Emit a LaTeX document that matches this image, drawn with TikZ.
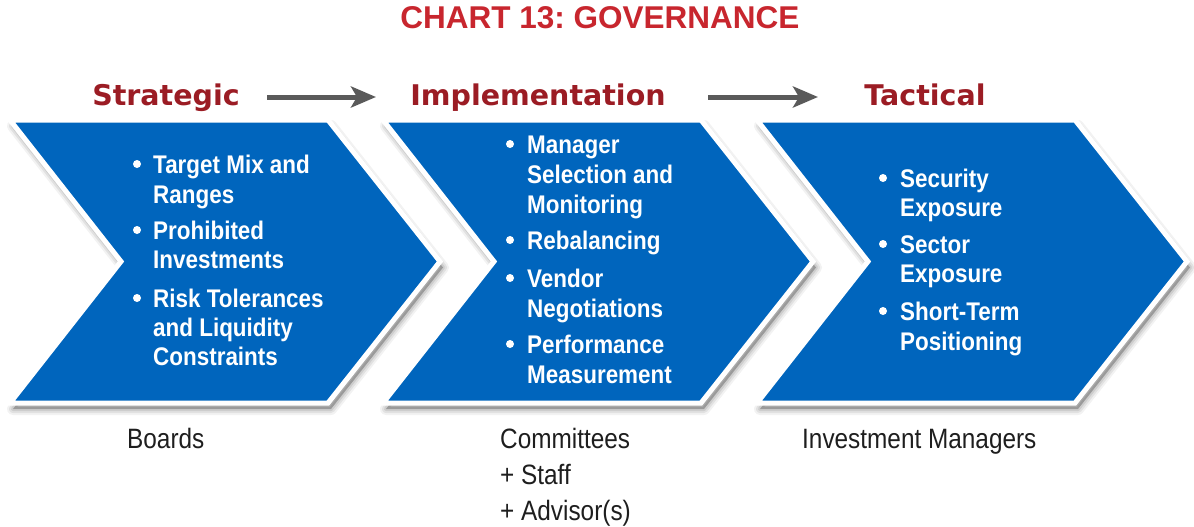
\documentclass[tikz,border=0pt]{standalone}
\usepackage{fontspec}
\setmainfont{Liberation Sans}
\newfontfamily\headfont{DejaVu Sans}
\newfontfamily\itemfont{Liberation Sans}[FakeStretch=0.88]
\newfontfamily\labelfont{Liberation Sans}[FakeStretch=0.87]
\usetikzlibrary{arrows.meta}
\frenchspacing

\definecolor{chevblue}{RGB}{0,101,189}
\definecolor{titlered}{RGB}{200,38,46}
\definecolor{headred}{RGB}{155,28,36}
\definecolor{arrowgray}{RGB}{90,90,90}
\definecolor{labelgray}{RGB}{30,30,30}

% one chevron outline, left edge at x = 0
\def\chevpath{(0,120) -- (318,120) -- (430,261.5) -- (318,403) -- (0,403) -- (111,261.5) -- cycle}

\newcommand\chevron[1]{%
  \begin{scope}[shift={(#1,0)}]
    % soft shadow, built from stacked translucent strokes
    \begin{scope}[shift={(3,6)}]
      \foreach \w/\o in {12/0.05, 8/0.07, 4/0.09}
        \draw[line width=\w pt, black, opacity=\o, line join=round] \chevpath;
      \fill[black, opacity=0.25] \chevpath;
    \end{scope}
    \filldraw[fill=chevblue, draw=white, line width=5pt, line join=miter] \chevpath;
  \end{scope}}

\tikzset{
  title/.style={text=titlered, font=\fontsize{31.5pt}{34pt}\selectfont\bfseries, inner sep=0pt},
  head/.style={text=headred, font=\headfont\fontsize{28.5pt}{32pt}\selectfont\bfseries, inner sep=0pt, anchor=base},
  itm/.style={text=white, font=\itemfont\fontsize{25.5pt}{30pt}\selectfont\bfseries, inner sep=0pt, anchor=base west},
  dot/.style={circle, fill=white, inner sep=0pt, minimum size=8pt},
  lbl/.style={text=labelgray, font=\labelfont\fontsize{28pt}{34pt}\selectfont, inner sep=0pt, anchor=base west},
  flow/.style={draw=arrowgray, line width=5pt, -{Stealth[length=25pt, width=21pt, inset=6pt]}}
}

\begin{document}
\begin{tikzpicture}[x=1pt, y=-1pt]
  \useasboundingbox (0,0) rectangle (1194,527);

  % title
  \node[title, anchor=base] (title) at (600,29) {CHART 13: GOVERNANCE};

  % stage headings
  \node[head] (strat) at (166,105) {Strategic};
  \node[head] (impl)  at (538,105) {Implementation};
  \node[head] (tact)  at (925,105) {Tactical};

  % arrows between the headings
  \coordinate (f1s) at (267,97);
  \coordinate (f1e) at (376,97);
  \coordinate (f2s) at (708,97);
  \coordinate (f2e) at (818,97);
  \draw[flow] (f1s) -- (f1e);
  \draw[flow] (f2s) -- (f2e);

  % chevrons
  \chevron{10}
  \chevron{383}
  \chevron{757}

  % Strategic items
  \foreach \n/\yy/\t in {a/173/Target Mix and, b/203/Ranges, c/239/Prohibited,
      d/268/Investments, e/307/Risk Tolerances, f/336/and Liquidity, g/365/Constraints}
    \node[itm] (s\n) at (153,\yy) {\t};
  \foreach \n/\yy in {a/173, c/239, e/307}
    \node[dot] (sd\n) at (137,\yy-9) {};

  % Implementation items
  \foreach \n/\yy/\t in {a/153/Manager, b/183/Selection and, c/213/Monitoring,
      d/249/Rebalancing, e/287/Vendor, f/317/Negotiations, g/353/Performance, h/383/Measurement}
    \node[itm] (i\n) at (527,\yy) {\t};
  \foreach \n/\yy in {a/153, d/249, e/287, g/353}
    \node[dot] (id\n) at (510,\yy-9) {};

  % Tactical items
  \foreach \n/\yy/\t in {a/187/Security, b/216/Exposure, c/253/Sector,
      d/282/Exposure, e/320/Short-Term, f/350/Positioning}
    \node[itm] (t\n) at (900,\yy) {\t};
  \foreach \n/\yy in {a/187, c/253, e/320}
    \node[dot] (td\n) at (883,\yy-9) {};

  % who is responsible at each stage
  \node[lbl] (boards) at (127,448) {Boards};
  \node[lbl] (comm)   at (500,448) {Committees};
  \node[lbl] (staff)  at (500,484) {+ Staff};
  \node[lbl] (adv)    at (500,520) {+ Advisor(s)};
  \node[lbl] (mgrs)   at (802,448) {Investment Managers};
\end{tikzpicture}
\end{document}
